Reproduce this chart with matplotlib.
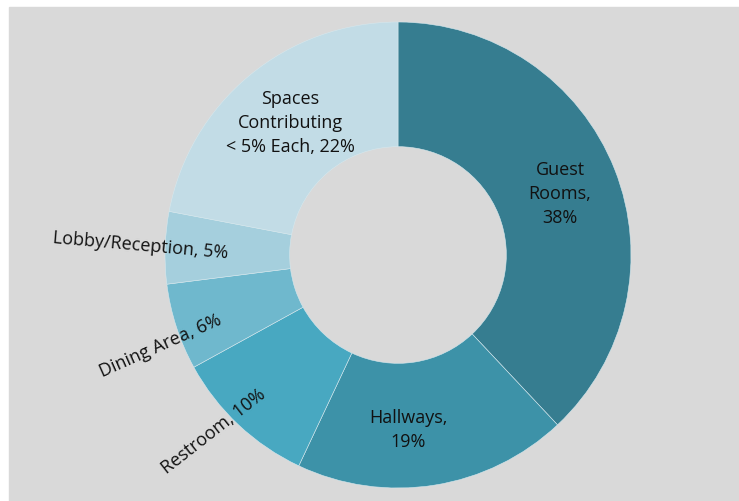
import matplotlib.pyplot as plt
from matplotlib.patches import Rectangle

# share of energy use by space type (%)
spaces = ["Guest Rooms", "Hallways", "Restroom", "Dining Area", "Lobby/Reception",
          "Spaces Contributing < 5% Each"]
shares = [38, 19, 10, 6, 5, 22]
colors = ["#367d90", "#3d92a8", "#48a8c1", "#6fb8cd", "#a5cfdd", "#c2dce6"]

plt.rcParams['font.family'] = ['Open Sans', 'DejaVu Sans']

W, H = 739, 502
fig = plt.figure(figsize=(W / 100, H / 100), dpi=100)
fig.add_artist(Rectangle((9 / W, 0), 1, (H - 8) / H, transform=fig.transFigure,
                         color="#d9d9d9", zorder=0))

ax = fig.add_axes([0, 0, 1, 1])
cx, cy, R = 398, H - 256, 233
ax.pie(shares, colors=colors, startangle=90, counterclock=False,
       center=(cx, cy), radius=R,
       wedgeprops=dict(width=R * 0.535, edgecolor="#d6e8ee", linewidth=0.4))
ax.set_xlim(0, W)
ax.set_ylim(0, H)
ax.set_aspect("equal")
ax.axis("off")

txt = dict(fontsize=13, color="#111111", ha="center", va="center", linespacing=1.42)
ax.text(560, H - 194, "Guest\nRooms,\n38%", **txt)
ax.text(408, H - 430, "Hallways,\n19%", **txt)
ax.text(290, H - 123, "Spaces\nContributing\n< 5% Each, 22%", **txt)
ax.text(140, H - 246, "Lobby/Reception, 5%", rotation=-5, **txt)
ax.text(160, H - 346, "Dining Area, 6%", rotation=24, **txt)
ax.text(214, H - 432, "Restroom, 10%", rotation=38, **txt)

fig.savefig("out.png", dpi=100)
